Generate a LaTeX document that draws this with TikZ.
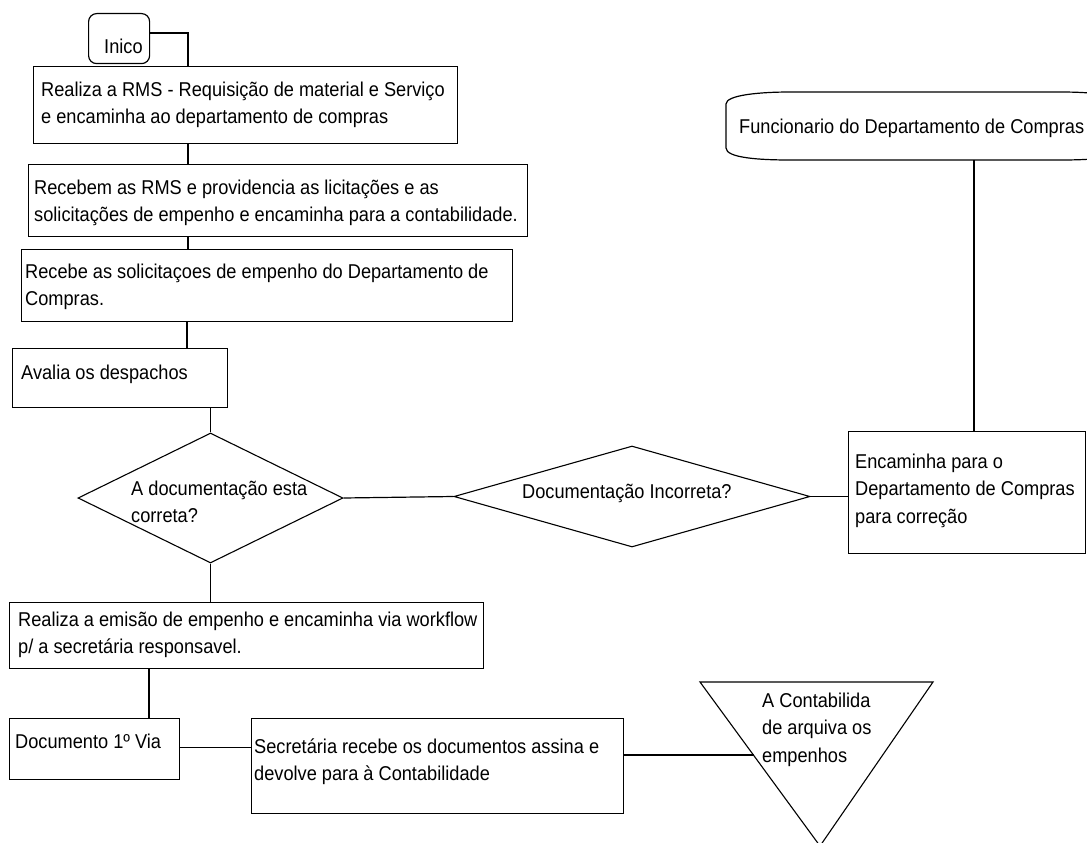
\documentclass[tikz,border=0pt]{standalone}
\usepackage{fontspec}
\setmainfont[FakeStretch=0.91]{Liberation Sans}
\usetikzlibrary{shapes.geometric}
\begin{document}
\begin{tikzpicture}[x=1pt,y=-1pt,
  ln/.style={line width=1.2pt},
  box/.style={draw, line width=1.2pt, inner sep=0pt, anchor=north west},
  dia/.style={draw, diamond, line width=1.1pt, inner sep=0pt},
  txt/.style={inner sep=0pt, anchor=base west, align=left,
              font=\fontsize{20}{27.5}\selectfont}]
\useasboundingbox (0,0) rectangle (1087,843);

% boxes
\node[box, rounded corners=8pt, minimum width=61pt, minimum height=50pt] (inico) at (88,13) {};
\node[box, minimum width=424pt, minimum height=77pt] (b1) at (33,66) {};
\node[box, minimum width=499pt, minimum height=72pt] (b2) at (28,164) {};
\node[box, minimum width=491pt, minimum height=72pt] (b3) at (21,249) {};
\node[box, minimum width=215pt, minimum height=59pt] (b4) at (12,348) {};
\node[dia, minimum width=265pt, minimum height=130pt] (d1) at (210.5,498) {};
\node[dia, minimum width=356pt, minimum height=101pt] (d2) at (632,496.5) {};
\node[box, minimum width=237pt, minimum height=122pt] (enc) at (848,431) {};
\node[box, minimum width=474pt, minimum height=66pt] (b5) at (9,602) {};
\node[box, minimum width=170pt, minimum height=61pt] (b6) at (9,718) {};
\node[box, minimum width=372pt, minimum height=95pt] (b7) at (250.5,718) {};

% terminator shape of Funcionario
\draw[ln] (790,92) -- (1061,92)
  .. controls (1091,92) and (1125,95) .. (1125,104) -- (1125,148)
  .. controls (1125,158) and (1091,160) .. (1061,160) -- (790,160)
  .. controls (760,160) and (726,158) .. (726,148) -- (726,104)
  .. controls (726,95) and (760,92) .. (790,92) -- cycle;

% inverted triangle
\coordinate (tl) at (700,682);
\coordinate (tr) at (933,682);
\coordinate (tb) at (820,846);
\draw[line width=1.1pt] (tl) -- (tr) -- (tb) -- cycle;

% texts (anchor = baseline of the last line)
\node[txt] (tinico) at (104,54) {Inico};
\node[txt] (t1) at (41,123.5) {Realiza a RMS - Requisição de material e Serviço\\e encaminha ao departamento de compras};
\node[txt] (t2) at (34,221.5) {Recebem as RMS e providencia as licitações e as\\solicitações de empenho e encaminha para a contabilidade.};
\node[txt] (t3) at (25,305.5) {Recebe as solicitaçoes de empenho do Departamento de\\Compras.};
\node[txt] (t4) at (21,379) {Avalia os despachos};
\node[txt] (td1) at (131,522.5) {A documentação esta\\correta?};
\node[txt] (td2) at (522,498) {Documentação Incorreta?};
\node[txt] (tenc) at (855,523) {Encaminha para o\\Departamento de Compras\\para correção};
\node[txt] (func) at (739,133) {Funcionario do Departamento de Compras};
\node[txt] (t5) at (18,653.5) {Realiza a emisão de empenho e encaminha via workflow\\p/ a secretária responsavel.};
\node[txt] (t6) at (15,748) {Documento 1º Via};
\node[txt] (t7) at (254,780.5) {Secretária recebe os documentos assina e\\devolve para à Contabilidade};
\node[txt] (ttri) at (762,762) {A Contabilida\\de arquiva os\\empenhos};

% connectors
\coordinate (c1) at (188,33);
\coordinate (c2) at (149,700);
\coordinate (fx) at (974,160);
\coordinate (ti) at (753.7,755);
\draw[ln] (inico.east |- c1) -- (c1) -- (c1 |- b1.north);
\draw[ln] (b1.south -| c1) -- (b2.north -| c1);
\draw[ln] (b2.south -| c1) -- (b3.north -| c1);
\draw[ln] ([xshift=-1pt]b3.south -| c1) -- ([xshift=-1pt]b4.north -| c1);
\draw[ln] (d1.north |- b4.south) -- (d1.north);
\draw[ln] (d1.east) -- (d2.west);
\draw[ln] (d2.east) -- (d2.east -| enc.west);
\draw[ln] (fx) -- (fx |- enc.north);
\draw[ln] (d1.south) -- (d1.south |- b5.north);
\draw[ln] (b5.south -| c2) -- (b6.north -| c2);
\draw[ln] ([yshift=1.5pt]b6.east) -- ([yshift=1.5pt]b6.east -| b7.west);
\draw[ln] (ti -| b7.east) -- (ti);
\end{tikzpicture}
\end{document}
